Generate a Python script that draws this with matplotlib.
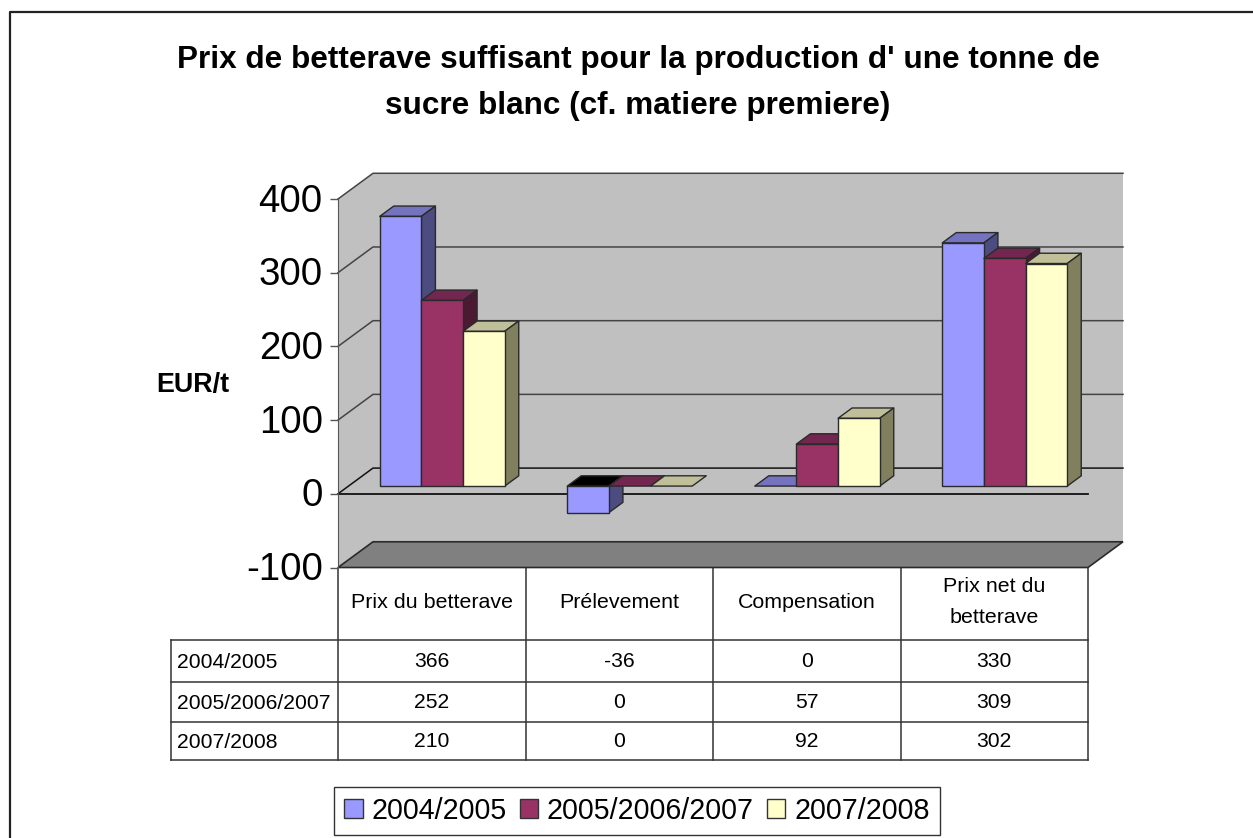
import matplotlib
matplotlib.use('Agg')
import matplotlib.pyplot as plt
from matplotlib.patches import Polygon
from matplotlib.transforms import ScaledTranslation

plt.rcParams['font.family'] = ['Liberation Sans', 'DejaVu Sans']
plt.rcParams['axes.unicode_minus'] = False

title = "Prix de betterave suffisant pour la production d' une tonne de\nsucre blanc (cf. matiere premiere)"
categories = ['Prix du betterave', 'Prélevement', 'Compensation', 'Prix net du\nbetterave']
series_names = ['2004/2005', '2005/2006/2007', '2007/2008']
values_2004 = [366, -36, 0, 330]
values_2005 = [252, 0, 57, 309]
values_2007 = [210, 0, 92, 302]
y_ticks = [-100, 0, 100, 200, 300, 400]

all_values = [values_2004, values_2005, values_2007]
front_cols = ['#9999ff', '#993366', '#ffffcc']
top_cols = ['#7373bf', '#732650', '#bfbf99']
side_cols = ['#4c4c80', '#4c1933', '#80805f']
LINE = '#2a2a2a'
WALL = '#c0c0c0'

# 3d look: depth of the box in data units
WALL_DX, WALL_DY = 35 / 187.5, 34.9
BAR_SHIFT = 0.3
BAR_DEPTH = 0.4
BAR_W = 0.2222

fig = plt.figure(figsize=(12.53, 8.38), dpi=100)
W, H = 1253, 838

# overlay in pixels for the frame, title and data table
bg = fig.add_axes([0, 0, 1, 1])
bg.set_xlim(0, W)
bg.set_ylim(H, 0)
bg.axis('off')
bg.plot([9.5, 9.5, W], [H, 12, 12], color='#222222', lw=1.6)
bg.text(638, 83, title, ha='center', va='center', fontsize=22.7, fontweight='bold', linespacing=1.7)
bg.text(193, 385, 'EUR/t', ha='center', va='center', fontsize=19.4, fontweight='bold')

# front plane of the box
left, right, top, bottom = 338, 1088, 199, 567.5
ax = fig.add_axes([left / W, 1 - bottom / H, (right - left) / W, (bottom - top) / H])
ax.patch.set_visible(False)
ax.set_xlim(0, 4)
ax.set_ylim(-100, 400)
for s in ['top', 'right', 'bottom']:
    ax.spines[s].set_visible(False)
ax.spines['left'].set_color('#555555')
ax.spines['left'].set_zorder(1)
ax.set_xticks([])
ax.set_yticks(y_ticks)
ax.tick_params(axis='y', labelsize=27.6, length=5.5, width=1, color='#555555', pad=5.5)
for lab in ax.get_yticklabels():
    lab.set_transform(lab.get_transform() + ScaledTranslation(0, 1.5 / 100, fig.dpi_scale_trans))

# walls and floor
ax.add_patch(Polygon([(0, -100), (WALL_DX, -100 + WALL_DY), (WALL_DX, 400 + WALL_DY), (0, 400)],
                     fc=WALL, ec='none', clip_on=False, zorder=0))
ax.add_patch(Polygon([(WALL_DX, -100 + WALL_DY), (4 + WALL_DX, -100 + WALL_DY),
                      (4 + WALL_DX, 400 + WALL_DY), (WALL_DX, 400 + WALL_DY)],
                     fc=WALL, ec='none', clip_on=False, zorder=0))
ax.add_patch(Polygon([(0, -100), (4, -100), (4 + WALL_DX, -100 + WALL_DY), (WALL_DX, -100 + WALL_DY)],
                     fc='#808080', ec=LINE, lw=1.2, clip_on=False, zorder=1))
for t in y_ticks[1:]:
    c = '#111111' if t == 0 else '#444444'
    ax.plot([0, WALL_DX, 4 + WALL_DX], [t, t + WALL_DY, t + WALL_DY], color=c, lw=1.1, clip_on=False, zorder=1)
ax.plot([0, 4], [0, 0], color='#111111', lw=1.3, zorder=1, clip_on=False)

# bars, left to right so each hides the side of the previous one
base = WALL_DY * BAR_SHIFT
dx = WALL_DX * BAR_DEPTH
dy = WALL_DY * BAR_DEPTH
for i in range(len(categories)):
    for j, vals in enumerate(all_values):
        v = vals[i]
        x0 = i + 0.5 + WALL_DX * BAR_SHIFT + (j - 1.5) * BAR_W
        x1 = x0 + BAR_W
        hi = base + max(v, 0)
        lo = base + min(v, 0)
        z = 3 + i * 3 + j * 3
        top_col = 'black' if v < 0 else top_cols[j]
        ax.add_patch(Polygon([(x0, hi), (x1, hi), (x1 + dx, hi + dy), (x0 + dx, hi + dy)],
                             fc=top_col, ec=LINE, lw=1, clip_on=False, zorder=z, joinstyle='round'))
        if v != 0:
            ax.add_patch(Polygon([(x1, lo), (x1 + dx, lo + dy), (x1 + dx, hi + dy), (x1, hi)],
                                 fc=side_cols[j], ec=LINE, lw=1, clip_on=False, zorder=z))
            ax.bar(x0, v, BAR_W, bottom=base, align='edge', color=front_cols[j], ec=LINE, lw=1,
                   clip_on=False, zorder=z + 1)

# data table
col_x = [left + (right - left) / 4 * k for k in range(5)]
row_y = [640, 682, 722, 760]
label_x = 171
for y in row_y:
    bg.plot([label_x, right], [y, y], color='#333333', lw=1.1)
bg.plot([label_x, label_x], [row_y[0], row_y[-1]], color='#333333', lw=1.1)
for x in col_x:
    bg.plot([x, x], [bottom, row_y[-1]], color='#333333', lw=1.1)
for k, name in enumerate(categories):
    bg.text((col_x[k] + col_x[k + 1]) / 2, 602, name, ha='center', va='center', fontsize=15.4, linespacing=1.75)
for r, vals in enumerate(all_values):
    ymid = (row_y[r] + row_y[r + 1]) / 2
    bg.text(177, ymid + 1, series_names[r], ha='left', va='center', fontsize=15.2)
    for k, v in enumerate(vals):
        bg.text((col_x[k] + col_x[k + 1]) / 2, ymid, str(v), ha='center', va='center', fontsize=15.2)

# legend
handles = [plt.Rectangle((0, 0), 1, 1, fc=front_cols[j], ec='#333333', lw=1) for j in range(3)]
leg = fig.legend(handles, series_names, loc='center', bbox_to_anchor=(637 / W, 1 - 811 / H), ncol=3,
                 fontsize=20.6, frameon=True, fancybox=False, edgecolor='#333333', framealpha=1,
                 handlelength=0.65, handleheight=0.65, handletextpad=0.3, columnspacing=0.45,
                 borderpad=0.36, borderaxespad=0)
leg.get_frame().set_linewidth(1)

fig.savefig('out.png', dpi=100)
